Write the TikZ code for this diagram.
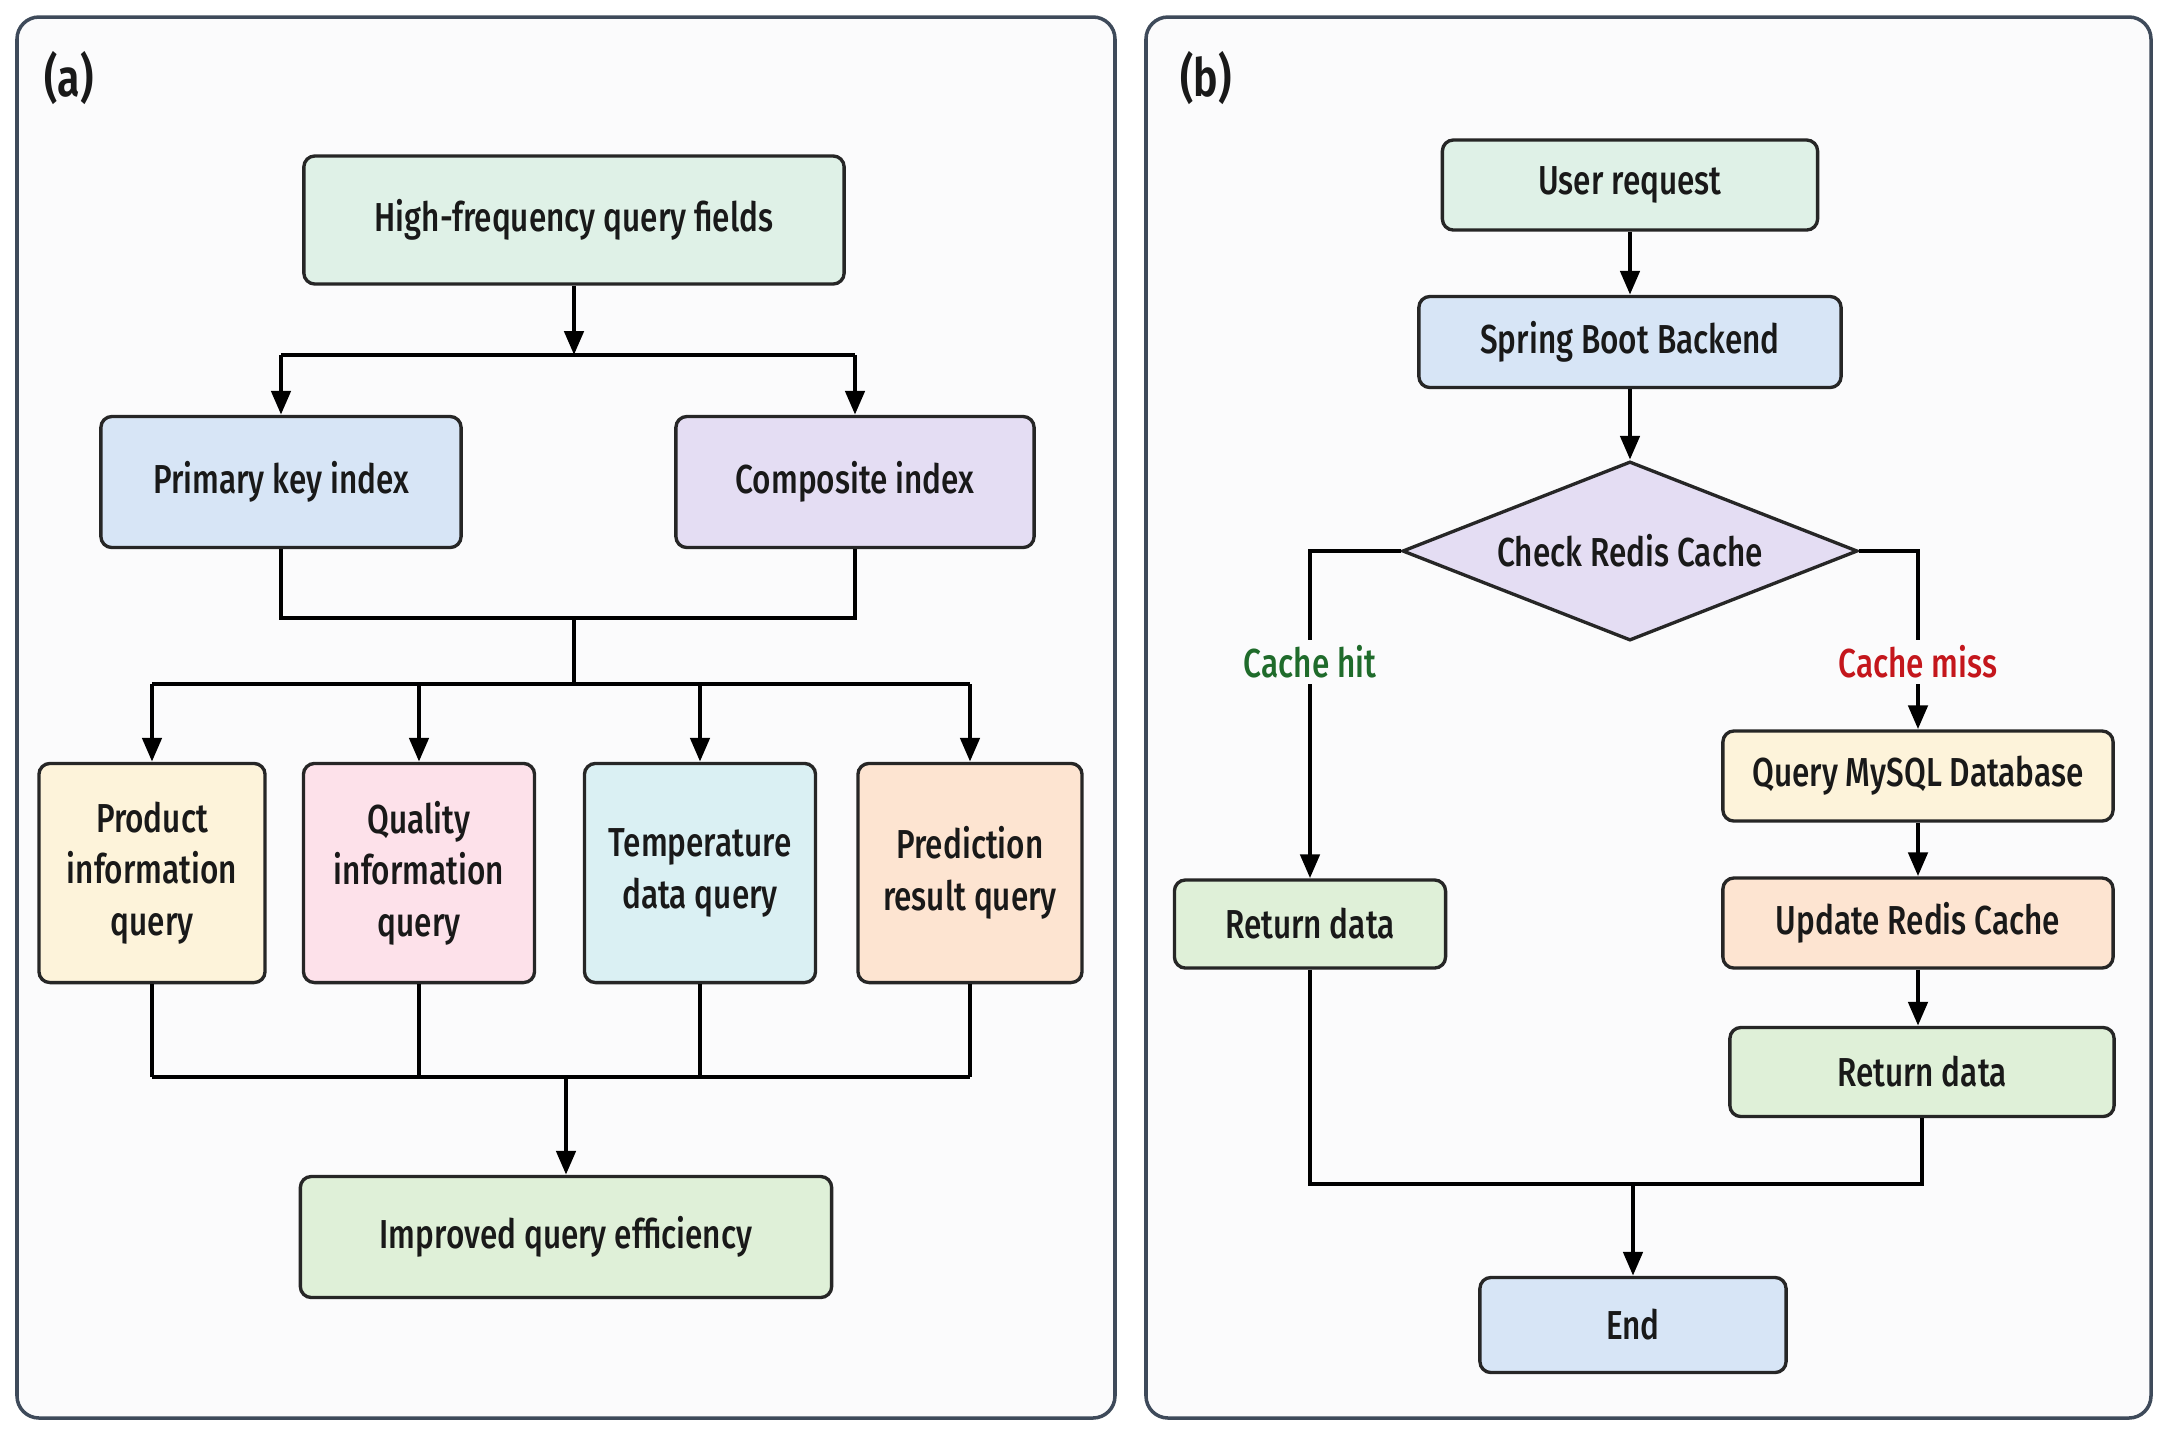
\documentclass[tikz,border=0pt]{standalone}
\usepackage{fontspec}
\setmainfont[FakeStretch=0.78, UprightFont=* Medium, BoldFont=* SemiBold]{Fira Sans}
\usetikzlibrary{shapes.geometric,arrows.meta}
\definecolor{panelbg}{HTML}{FBFBFC}
\definecolor{panelline}{HTML}{3E4A5A}
\definecolor{cmint}{HTML}{DFF1E7}
\definecolor{cblue}{HTML}{D7E5F6}
\definecolor{clav}{HTML}{E4DDF3}
\definecolor{cyel}{HTML}{FDF3DA}
\definecolor{cpink}{HTML}{FDE1EA}
\definecolor{ccyan}{HTML}{DAF0F3}
\definecolor{cpeach}{HTML}{FDE4D1}
\definecolor{cgreen}{HTML}{DFF0D8}
\definecolor{hitgreen}{HTML}{1F6B2B}
\definecolor{missred}{HTML}{C4161C}
\tikzset{
  box/.style={draw=black!85, line width=0.95pt, rounded corners=1.1mm, align=center,
    inner sep=0pt, text=black!90, font=\fontsize{11.5}{14.7}\selectfont},
  conn/.style={line width=1.35pt, black},
  arr/.style={conn, -{Triangle[length=0.24cm,width=0.19cm]}},
  panel/.style={draw=panelline, line width=1pt, fill=panelbg, rounded corners=2.2mm},
  plabel/.style={font=\fontsize{15}{18}\selectfont\bfseries, text=black!90},
  blabel/.style={fill=panelbg, inner sep=1.5pt, font=\fontsize{11.5}{14}\selectfont}
}
\begin{document}
\begin{tikzpicture}[x=0.01cm,y=-0.01cm]
\useasboundingbox[fill=white] (0,0) rectangle (2159,1438);
% panels
\draw[panel] (17,17) rectangle (1115,1418);
\draw[panel] (1146,17) rectangle (2151,1418);
\node[plabel] (la) at (69,78) {(a)};
\node[plabel] (lb) at (1206,78) {(b)};

% ---------- panel (a)
\node[box, fill=cmint, minimum width=5.40cm, minimum height=1.28cm] (a1) at (574,220) {High-frequency query fields};
\node[box, fill=cblue, minimum width=3.60cm, minimum height=1.31cm] (a2) at (281,482) {Primary key index};
\node[box, fill=clav, minimum width=3.58cm, minimum height=1.31cm] (a3) at (855,482) {Composite index};
\node[box, fill=cyel, minimum width=2.26cm, minimum height=2.19cm] (b1) at (152,873) {Product\\information\\query};
\node[box, fill=cpink, minimum width=2.31cm, minimum height=2.19cm] (b2) at (419,873) {Quality\\information\\query};
\node[box, fill=ccyan, minimum width=2.31cm, minimum height=2.19cm] (b3) at (700,873) {Temperature\\data query};
\node[box, fill=cpeach, minimum width=2.24cm, minimum height=2.19cm] (b4) at (970,873) {Prediction\\result query};
\node[box, fill=cgreen, minimum width=5.31cm, minimum height=1.21cm] (imp) at (566,1237) {Improved query efficiency};

\draw[arr] (a1.south) -- (a1.south |- 0,355);
\draw[conn] (a2.north |- 0,355) -- (a3.north |- 0,355);
\draw[arr] (a2.north |- 0,355) -- (a2.north);
\draw[arr] (a3.north |- 0,355) -- (a3.north);

\draw[conn] (a2.south) -- (a2.south |- 0,618) -- (a3.south |- 0,618) -- (a3.south);
\draw[conn] (a1.south |- 0,618) -- (a1.south |- 0,684);
\draw[conn] (b1.north |- 0,684) -- (b4.north |- 0,684);
\foreach \n in {b1,b2,b3,b4} \draw[arr] (\n.north |- 0,684) -- (\n.north);

\foreach \n in {b1,b2,b3,b4} \draw[conn] (\n.south) -- (\n.south |- 0,1077);
\draw[conn] (b1.south |- 0,1077) -- (b4.south |- 0,1077);
\draw[arr] (imp.north |- 0,1077) -- (imp.north);

% ---------- panel (b)
\node[box, fill=cmint, minimum width=3.75cm, minimum height=0.90cm] (u) at (1630,185) {User request};
\node[box, fill=cblue, minimum width=4.22cm, minimum height=0.91cm] (s) at (1630,342) {Spring Boot Backend};
\node[diamond, aspect=2.54, draw=black!85, line width=0.95pt, fill=clav, inner sep=0pt, text=black!90,
      font=\fontsize{11.5}{14}\selectfont, minimum width=4.55cm, minimum height=1.79cm] (d) at (1630,551) {Check Redis Cache};
\node[box, fill=cgreen, minimum width=2.71cm, minimum height=0.88cm] (rl) at (1310,924) {Return data};
\node[box, fill=cyel, minimum width=3.90cm, minimum height=0.90cm] (q) at (1918,776) {Query MySQL Database};
\node[box, fill=cpeach, minimum width=3.90cm, minimum height=0.90cm] (up) at (1918,923) {Update Redis Cache};
\node[box, fill=cgreen, minimum width=3.84cm, minimum height=0.89cm] (rr) at (1922,1072) {Return data};
\node[box, fill=cblue, minimum width=3.06cm, minimum height=0.95cm] (e) at (1633,1325) {End};

\draw[arr] (u.south) -- (s.north);
\draw[arr] (s.south) -- (d.north);
\draw[arr] (d.west) -- (rl.north |- d.west) -- (rl.north);
\draw[arr] (d.east) -- (q.north |- d.east) -- (q.north);
\node[blabel, text=hitgreen] (hit) at (rl.north |- 0,662) {Cache hit};
\node[blabel, text=missred] (miss) at (q.north |- 0,662) {Cache miss};
\draw[arr] (q.south) -- (up.north);
\draw[arr] (up.south) -- (up.south |- rr.north);
\draw[conn] (rl.south) -- (rl.south |- 0,1184) -- (rr.south |- 0,1184) -- (rr.south);
\draw[arr] (e.north |- 0,1184) -- (e.north);
\end{tikzpicture}
\end{document}
